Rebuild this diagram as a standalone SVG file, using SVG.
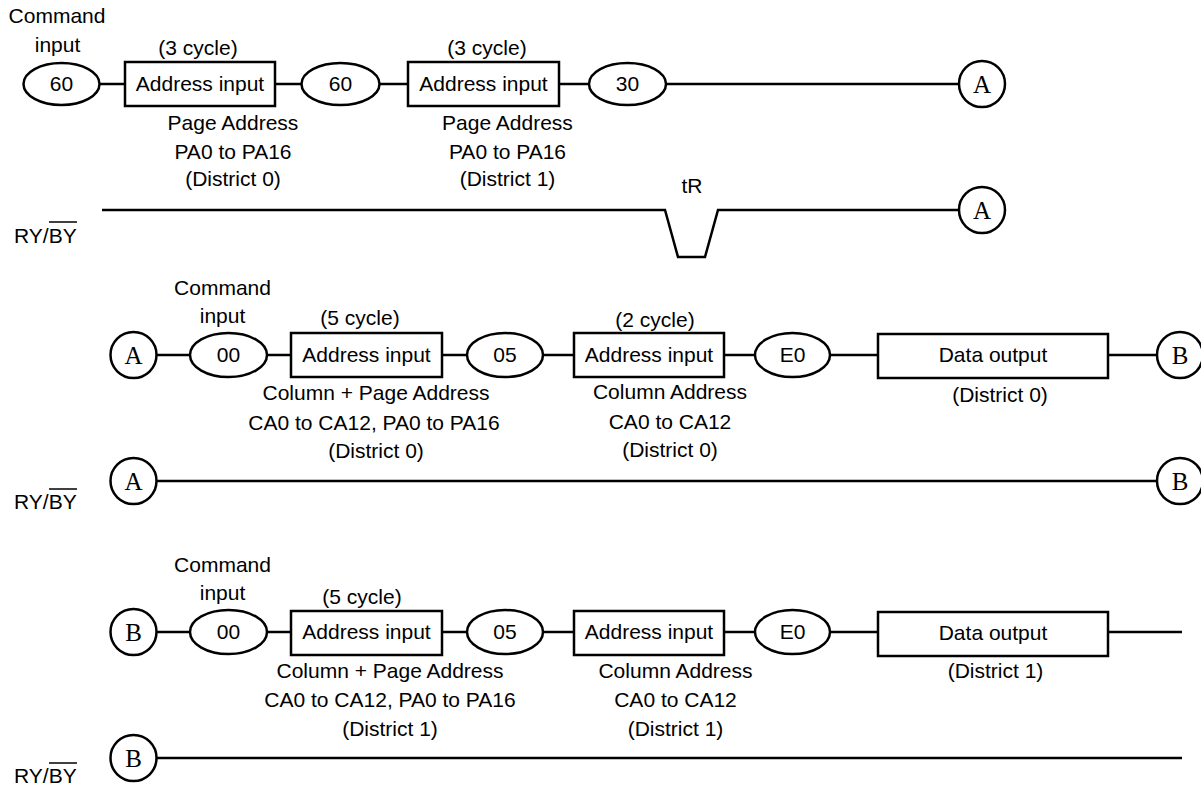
<svg xmlns="http://www.w3.org/2000/svg" width="1201" height="791" viewBox="0 0 1201 791">
<style>
.s{fill:#fff;stroke:#000;stroke-width:2.5}
.c{fill:none;stroke:#000;stroke-width:2.5}
.t{font-family:"Liberation Sans",Arial,sans-serif;font-size:21px;fill:#000;text-anchor:middle}
.l{font-family:"Liberation Sans",Arial,sans-serif;font-size:21px;fill:#000}
.r{font-family:"Liberation Serif","Times New Roman",serif;font-size:25px;fill:#000;text-anchor:middle}
</style>
<rect width="1201" height="791" fill="#fff"/>
<g id="connectors">
<line class="c" x1="99.5" y1="84" x2="125" y2="84"/>
<line class="c" x1="275" y1="84" x2="302" y2="84"/>
<line class="c" x1="379.5" y1="84" x2="408" y2="84"/>
<line class="c" x1="559" y1="84" x2="589" y2="84"/>
<line class="c" x1="666" y1="84" x2="959" y2="84"/>
<polyline class="c" points="102,210 665,210 678,257 705,257 718,210 959,210"/>
<line class="c" x1="156" y1="355" x2="190" y2="355"/>
<line class="c" x1="267" y1="355" x2="291" y2="355"/>
<line class="c" x1="442" y1="355" x2="467" y2="355"/>
<line class="c" x1="543" y1="355" x2="574" y2="355"/>
<line class="c" x1="724" y1="355" x2="755" y2="355"/>
<line class="c" x1="830" y1="355" x2="878" y2="355"/>
<line class="c" x1="1108" y1="355" x2="1157" y2="355"/>
<line class="c" x1="156" y1="481" x2="1157" y2="481"/>
<line class="c" x1="156" y1="632" x2="190" y2="632"/>
<line class="c" x1="267" y1="632" x2="291" y2="632"/>
<line class="c" x1="442" y1="632" x2="467" y2="632"/>
<line class="c" x1="543" y1="632" x2="574" y2="632"/>
<line class="c" x1="724" y1="632" x2="755" y2="632"/>
<line class="c" x1="830" y1="632" x2="878" y2="632"/>
<line class="c" x1="1108" y1="632" x2="1182" y2="632"/>
<line class="c" x1="156" y1="758" x2="1182" y2="758"/>
</g>
<g id="labels">
<text class="t" x="57" y="23">Command</text>
<text class="t" x="57.5" y="52">input</text>
<text class="t" x="198" y="55">(3 cycle)</text>
<text class="t" x="233" y="130">Page Address</text>
<text class="t" x="233" y="159">PA0 to PA16</text>
<text class="t" x="233" y="186">(District 0)</text>
<text class="t" x="487" y="55">(3 cycle)</text>
<text class="t" x="507.5" y="130">Page Address</text>
<text class="t" x="507.5" y="159">PA0 to PA16</text>
<text class="t" x="507.5" y="186">(District 1)</text>
<text class="t" x="692" y="193">tR</text>
<text class="l" x="14" y="243">RY/BY</text>
<line x1="49" y1="222" x2="77" y2="222" stroke="#000" stroke-width="1.5"/>
<text class="t" x="222.5" y="295">Command</text>
<text class="t" x="222.5" y="323">input</text>
<text class="t" x="360" y="325">(5 cycle)</text>
<text class="t" x="376" y="400">Column + Page Address</text>
<text class="t" x="374" y="430">CA0 to CA12, PA0 to PA16</text>
<text class="t" x="376" y="458">(District 0)</text>
<text class="t" x="655" y="327">(2 cycle)</text>
<text class="t" x="670" y="399">Column Address</text>
<text class="t" x="670" y="429">CA0 to CA12</text>
<text class="t" x="670" y="457">(District 0)</text>
<text class="t" x="1000" y="402">(District 0)</text>
<text class="l" x="14" y="509">RY/BY</text>
<line x1="49" y1="489" x2="77" y2="489" stroke="#000" stroke-width="1.5"/>
<text class="t" x="222.5" y="572">Command</text>
<text class="t" x="222.5" y="600">input</text>
<text class="t" x="362" y="604">(5 cycle)</text>
<text class="t" x="390" y="678">Column + Page Address</text>
<text class="t" x="390" y="707">CA0 to CA12, PA0 to PA16</text>
<text class="t" x="390" y="736">(District 1)</text>
<text class="t" x="675.5" y="678">Column Address</text>
<text class="t" x="675.5" y="707">CA0 to CA12</text>
<text class="t" x="675.5" y="736">(District 1)</text>
<text class="t" x="995.5" y="678">(District 1)</text>
<text class="l" x="14" y="783">RY/BY</text>
<line x1="49" y1="763" x2="77" y2="763" stroke="#000" stroke-width="1.5"/>
</g>
<g id="n-cmd60a"><ellipse class="s" cx="61.5" cy="84" rx="38" ry="21"/><text class="t" x="61.5" y="91">60</text></g>
<g id="n-addr1"><rect class="s" x="125" y="62" width="150" height="44"/><text class="t" x="200" y="91">Address input</text></g>
<g id="n-cmd60b"><ellipse class="s" cx="340.5" cy="84" rx="39" ry="21"/><text class="t" x="340.5" y="91">60</text></g>
<g id="n-addr2"><rect class="s" x="408" y="62" width="151" height="44"/><text class="t" x="483.5" y="91">Address input</text></g>
<g id="n-cmd30"><ellipse class="s" cx="627.5" cy="84" rx="38.5" ry="21"/><text class="t" x="627.5" y="91">30</text></g>
<g id="n-A1"><circle class="s" cx="982" cy="84" r="23"/><text class="r" x="982" y="92.5">A</text></g>
<g id="n-A2"><circle class="s" cx="982" cy="210" r="23"/><text class="r" x="982" y="218.5">A</text></g>
<g id="n-A3"><circle class="s" cx="133.5" cy="355" r="23"/><text class="r" x="133.5" y="363.5">A</text></g>
<g id="n-cmd00a"><ellipse class="s" cx="228.5" cy="355" rx="38.5" ry="22"/><text class="t" x="228.5" y="362">00</text></g>
<g id="n-addr3"><rect class="s" x="291" y="333" width="151" height="44"/><text class="t" x="366.5" y="362">Address input</text></g>
<g id="n-cmd05a"><ellipse class="s" cx="505" cy="355" rx="38" ry="22"/><text class="t" x="505" y="362">05</text></g>
<g id="n-addr4"><rect class="s" x="574" y="333" width="150" height="44"/><text class="t" x="649" y="362">Address input</text></g>
<g id="n-cmdE0a"><ellipse class="s" cx="792.5" cy="355" rx="37.5" ry="22"/><text class="t" x="792.5" y="362">E0</text></g>
<g id="n-data0"><rect class="s" x="878" y="334" width="230" height="44"/><text class="t" x="993" y="362">Data output</text></g>
<g id="n-B1"><circle class="s" cx="1180" cy="355" r="23"/><text class="r" x="1180" y="363.5">B</text></g>
<g id="n-A4"><circle class="s" cx="133.5" cy="481" r="23"/><text class="r" x="133.5" y="489.5">A</text></g>
<g id="n-B2"><circle class="s" cx="1180" cy="481" r="23"/><text class="r" x="1180" y="489.5">B</text></g>
<g id="n-B3"><circle class="s" cx="133.5" cy="632" r="23"/><text class="r" x="133.5" y="640.5">B</text></g>
<g id="n-cmd00b"><ellipse class="s" cx="228.5" cy="632" rx="38.5" ry="22"/><text class="t" x="228.5" y="639">00</text></g>
<g id="n-addr5"><rect class="s" x="291" y="611" width="151" height="44"/><text class="t" x="366.5" y="639">Address input</text></g>
<g id="n-cmd05b"><ellipse class="s" cx="505" cy="632" rx="38" ry="22"/><text class="t" x="505" y="639">05</text></g>
<g id="n-addr6"><rect class="s" x="574" y="611" width="150" height="44"/><text class="t" x="649" y="639">Address input</text></g>
<g id="n-cmdE0b"><ellipse class="s" cx="792.5" cy="632" rx="37.5" ry="22"/><text class="t" x="792.5" y="639">E0</text></g>
<g id="n-data1"><rect class="s" x="878" y="612" width="230" height="44"/><text class="t" x="993" y="640">Data output</text></g>
<g id="n-B4"><circle class="s" cx="133.5" cy="758" r="23"/><text class="r" x="133.5" y="766.5">B</text></g>
</svg>
